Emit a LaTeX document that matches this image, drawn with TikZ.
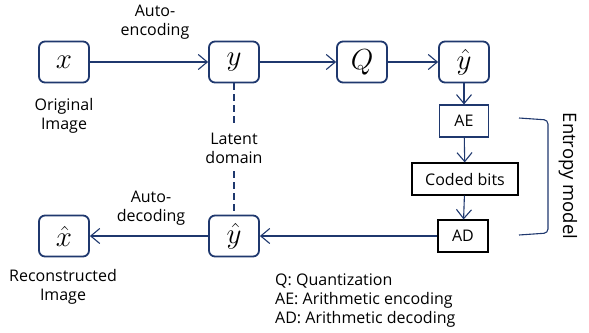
\RequirePackage{fix-cm}
\documentclass[tikz,border=0pt]{standalone}
\usepackage{amsmath}
\usepackage{fontspec}
\setmainfont{Open Sans}
\usepackage{tikz}
\usetikzlibrary{arrows.meta}
\usetikzlibrary{positioning}
\definecolor{mnavy}{RGB}{31,56,110}
\tikzset{var/.style = {draw=mnavy, line width=1.8, rounded corners=6, minimum width=50, minimum height=41, inner sep=0, font=\fontsize{29}{32}\selectfont}}
\tikzset{codebox/.style = {draw, line width=1.1, minimum height=32, inner sep=0, font=\fontsize{16}{19}\selectfont}}
\tikzset{lbl/.style = {align=center, inner sep=0, font=\fontsize{16}{19}\selectfont}}
\tikzset{flow/.style = {draw=mnavy, line width=1.1, -{Straight Barb[length=9, width=15, line width=1.1]}}}

\begin{document}
\begin{tikzpicture}[x=1pt, y=-1pt]
      \useasboundingbox (0, 0) rectangle (589, 332);

      % top row
      \node [var] (x) at (64, 62) {$x$};
      \node [var] (y) at (234, 62) {$y$};
      \node [var] (q) at (362, 62) {$Q$};
      \node [var] (yq) at (464, 62) {$\hat{y}$};

      % entropy coding
      \node [codebox, draw=mnavy, minimum width=49] (ae) at (464, 121) {AE};
      \node [codebox, minimum width=106] (bits) at (465, 179) {Coded bits};
      \node [codebox, minimum width=50] (ad) at (463, 236) {AD};

      % bottom row
      \node [var] (yr) at (234, 236) {$\hat{y}$};
      \node [var] (xr) at (64, 236) {$\hat{x}$};

      \draw [flow] (x) -- (y);
      \draw [flow] (y) -- (q);
      \draw [flow] (q) -- (yq);
      \draw [flow] (yq) -- (ae);
      \draw [flow] (ae) -- (bits);
      \draw [flow] (bits) -- (ad);
      \draw [flow] (ad) -- (yr);
      \draw [flow] (yr) -- (xr);

      % labels
      \node [lbl] (enc) at (155, 22) {Auto-\\encoding};
      \node [lbl] (dec) at (151, 208) {Auto-\\decoding};
      \node [lbl] (orig) at (64, 116) {Original\\Image};
      \node [lbl] (recon) at (63, 287) {Reconstructed\\Image};
      \node [lbl, inner ysep=8] (latent) at (234, 148) {Latent\\domain};
      \draw [mnavy, line width=1.1, dash pattern=on 7 off 4] (y) -- (latent);
      \draw [mnavy, line width=1.1, dash pattern=on 7 off 4] (latent) -- (yr);

      % entropy model bracket
      \coordinate (b1) at (519, 118);
      \coordinate (b2) at (548, 120);
      \coordinate (b3) at (548, 233);
      \coordinate (b4) at (519, 235);
      \draw [mnavy, line width=1.1, rounded corners=4] (b1) -- (b2) -- (b3) -- (b4);
      \node [lbl, rotate=-90, font=\fontsize{18.5}{20}\selectfont] (ent) at (568, 176) {Entropy model};

      % legend
      \node [lbl, align=left, anchor=north west, font=\fontsize{16}{19}\selectfont] (legend) at (275, 274) {Q: Quantization\\AE: Arithmetic encoding\\AD: Arithmetic decoding};
    \end{tikzpicture}
\end{document}
